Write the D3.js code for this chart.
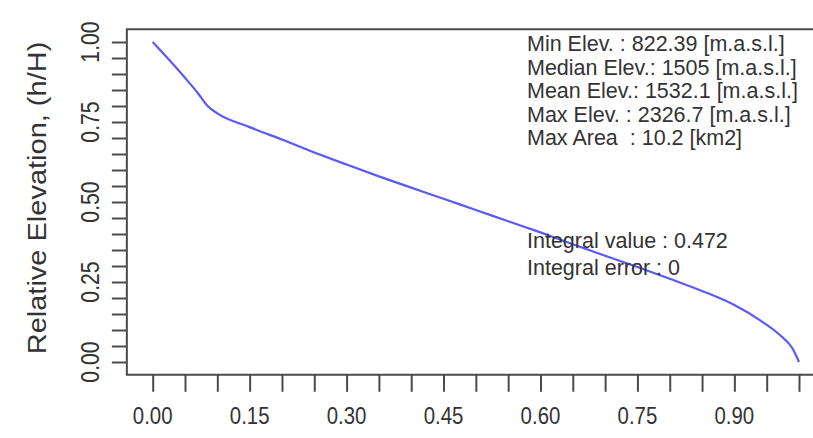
<!DOCTYPE html>
<html><head><meta charset="utf-8">
<script src="https://cdn.jsdelivr.net/npm/d3@7"></script>
<style>body{margin:0;background:#fff}svg{display:block}text{font-family:"Liberation Sans",Arial,sans-serif}</style>
</head><body><svg id="c" width="813" height="438"></svg>
<script>
const relArea = [0.0,0.01,0.025,0.05,0.07,0.085,0.1,0.15,0.2,0.25,0.3,0.35,0.4,0.45,0.5,0.55,0.6,0.65,0.7,0.75,0.8,0.85,0.9,0.94,0.97,0.99,1.0];
const relElev = [1.0,0.978,0.945,0.888,0.84,0.80,0.777,0.734,0.695,0.655,0.617,0.58,0.545,0.51,0.475,0.44,0.405,0.368,0.332,0.297,0.26,0.222,0.178,0.13,0.085,0.042,0.0];
const xTickLabels = [0.00,0.15,0.30,0.45,0.60,0.75,0.90];
const yTickLabels = [0.00,0.25,0.50,0.75,1.00];
const infoLines = ["Min Elev. : 822.39 [m.a.s.l.]","Median Elev.: 1505 [m.a.s.l.]","Mean Elev.: 1532.1 [m.a.s.l.]","Max Elev. : 2326.7 [m.a.s.l.]","Max Area  : 10.2 [km2]"];
const integralLines = ["Integral value : 0.472","Integral error : 0"];
const yTitle = "Relative Elevation, (h/H)";

const svg = d3.select("#c");
const x = d3.scaleLinear().domain([0,1]).range([152.7,799]);
const y = d3.scaleLinear().domain([0,1]).range([362,42]);
const axisCol = "#4a4a4a", textCol = "#333";

// box (R-style 4% extension)
const bx0 = x(-0.04), bx1 = x(1.04), by0 = y(1.04), by1 = y(-0.04);
svg.append("path").attr("d",`M${bx1},${by0}H${bx0}V${by1}H${bx1}`).attr("fill","none").attr("stroke",axisCol).attr("stroke-width",2);

// x ticks
const xMinor = d3.range(0,21).map(i=>i*0.05);
const gx = svg.append("g").attr("transform",`translate(0,${by1})`)
  .call(d3.axisBottom(x).tickValues(xMinor).tickSize(17).tickFormat(""));
gx.select(".domain").remove();
gx.selectAll("line").attr("stroke",axisCol).attr("stroke-width",2);
svg.append("g").selectAll("text").data(xTickLabels).join("text")
  .attr("x",d=>x(d)).attr("y",424).attr("text-anchor","middle")
  .attr("font-size",24).attr("fill",textCol)
  .attr("transform",d=>`translate(${x(d)},0) scale(0.85,1) translate(${-x(d)},0)`)
  .text(d=>d3.format(".2f")(d));

// y ticks
const yMinor = d3.range(0,21).map(i=>i*0.05);
const gy = svg.append("g").attr("transform",`translate(${bx0},0)`)
  .call(d3.axisLeft(y).tickValues(yMinor).tickSize(15).tickFormat(""));
gy.select(".domain").remove();
gy.selectAll("line").attr("stroke",axisCol).attr("stroke-width",2);
svg.append("g").selectAll("text").data(yTickLabels).join("text")
  .attr("transform",d=>`translate(99,${y(d)}) rotate(-90) scale(0.85,1)`)
  .attr("text-anchor","middle").attr("font-size",25).attr("fill",textCol)
  .text(d=>d3.format(".2f")(d));

svg.append("text").attr("transform",`translate(46,${198}) rotate(-90) scale(1,0.9)`)
  .attr("text-anchor","middle").attr("font-size",29).attr("fill",textCol).text(yTitle);

// curve
svg.append("path").datum(relArea.map((a,i)=>[a,relElev[i]]))
  .attr("d",d3.line().x(d=>x(d[0])).y(d=>y(d[1])).curve(d3.curveMonotoneX))
  .attr("fill","none").attr("stroke","#5a5af8").attr("stroke-width",2.2);

// info text
const info = svg.append("g");
info.selectAll("text").data(infoLines).join("text")
  .attr("x",527).attr("y",(d,i)=>51+i*23.5).attr("font-size",21.5).attr("fill",textCol)
  .attr("xml:space","preserve").style("white-space","pre").text(d=>d);
info.append("g").selectAll("text").data(integralLines).join("text")
  .attr("x",527).attr("y",(d,i)=>248+i*27).attr("font-size",21.5).attr("fill",textCol)
  .text(d=>d);
</script></body></html>
